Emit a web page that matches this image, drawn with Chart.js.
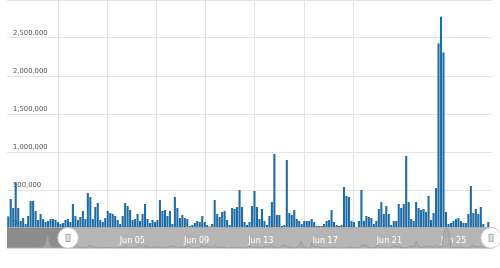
<!DOCTYPE html>
<html><head><meta charset="utf-8">
<script src="https://cdn.jsdelivr.net/npm/chart.js@4"></script>
<style>
html,body{margin:0;padding:0;background:#fff;}
#wrap{position:relative;width:500px;height:268px;overflow:hidden;background:#fff;}
#main{position:absolute;left:0;top:0;}
#scroll{position:absolute;left:0;top:226px;}
</style></head><body>
<div id="wrap"><canvas id="main" width="500" height="228"></canvas><canvas id="scroll" width="500" height="26"></canvas></div>
<script>
// ---- data ----
const barValues = [
 153000, 382000, 263000, 600000, 263000, 92000, 132000, 53000, 158000, 355000,
 355000, 224000, 105000, 184000, 118000, 79000, 92000, 118000, 118000, 105000,
 79000, 53000, 66000, 105000, 118000, 79000, 316000, 158000, 105000, 145000,
 224000, 118000, 461000, 408000, 118000, 276000, 329000, 105000, 79000, 132000,
 224000, 197000, 184000, 158000, 105000, 53000, 158000, 329000, 289000, 237000,
 105000, 118000, 184000, 92000, 184000, 316000, 118000, 66000, 105000, 79000,
 105000, 368000, 224000, 237000, 158000, 224000,
 53000, 408000, 263000, 132000, 171000, 132000, 118000, 26000, 39000, 66000,
 92000, 79000, 158000, 79000, 39000, 20000, 53000, 368000, 184000, 145000,
 211000, 224000, 105000, 39000, 263000, 250000, 276000, 500000, 276000, 79000,
 39000, 79000, 289000, 487000, 276000, 118000, 250000, 92000, 39000, 158000,
 342000, 974000, 171000, 171000, 26000, 39000, 895000, 197000, 171000, 237000,
 118000, 92000, 53000, 92000, 92000, 92000, 118000, 79000, 26000, 26000,
 26000, 53000, 92000, 105000,
 237000, 79000, 39000, 26000, 39000, 539000, 421000, 408000, 92000, 79000,
 13000, 92000, 500000, 92000, 158000, 145000, 132000, 53000, 92000, 250000,
 342000, 184000, 289000, 184000, 39000, 92000, 92000, 316000, 263000, 316000,
 947000, 342000, 118000, 92000, 342000, 263000, 237000, 250000, 211000, 421000,
 105000, 197000, 526000, 2430000, 2780000, 2310000, 211000, 53000, 66000, 92000,
 118000, 132000, 92000, 66000, 66000, 184000, 553000, 197000, 250000, 184000,
 276000, 53000, 13000, 79000, 13000
];
// values before the zoomed range (only visible in the scrollbar overview)
const preRangeValues = [
 90000, 110000, 80000, 120000, 100000, 90000, 130000, 110000, 90000, 100000,
 120000, 100000, 90000, 110000, 130000, 120000, 150000, 500000, 1800000, 600000,
 150000, 120000, 100000, 110000, 90000, 120000, 100000, 110000
];
const yTickValues = [0, 500000, 1000000, 1500000, 2000000, 2500000, 3000000];
const scrollTickDays = [4, 8, 12, 16, 20, 24];            // days after Jun 01
const scrollTickLabels = ['Jun 05', 'Jun 09', 'Jun 13', 'Jun 17', 'Jun 21', 'Jun 25'];
const viewStartDay = 0, viewEndDay = 26.33;              // zoomed range (days after Jun 01)
const scrollStartDay = -3.8, scrollEndDay = 26.45;       // full data range
const gridStepDays = 3;

// ---- derived ----
const dayPerBar = (viewEndDay - viewStartDay) / barValues.length;
const monthNames = ['Jan','Feb','Mar','Apr','May','Jun','Jul','Aug','Sep','Oct','Nov','Dec'];
function dayLabel(d) {
  const t = new Date(Date.UTC(2017, 5, 1) + d * 86400000);
  return monthNames[t.getUTCMonth()] + ' ' + String(t.getUTCDate()).padStart(2, '0') + ' ' +
         String(t.getUTCHours()).padStart(2, '0') + ':00';
}
const categories = barValues.map((v, i) => dayLabel(viewStartDay + i * dayPerBar));
const overviewPoints = preRangeValues.map((v, i) => ({x: viewStartDay - (preRangeValues.length - i - 0.5) * dayPerBar, y: v}))
  .concat(barValues.map((v, i) => ({x: viewStartDay + (i + 0.5) * dayPerBar, y: v})));

const FONT = 'DejaVu Sans';
const GRID = '#e4e4e4';

new Chart(document.getElementById('main'), {
  type: 'bar',
  data: {labels: categories, datasets: [{data: barValues, backgroundColor: '#206da6', borderWidth: 0,
         barPercentage: 0.84, categoryPercentage: 1}]},
  options: {
    responsive: false, animation: false,
    layout: {padding: {left: 7, right: 8, top: 0, bottom: 0}},
    plugins: {legend: {display: false}, tooltip: {enabled: false}},
    scales: {
      x: {type: 'category', z: 1, grid: {display: false, drawTicks: false}, ticks: {display: false},
          border: {display: true, color: '#3a3a3a', width: 1},
          afterFit: s => { s.paddingLeft = 0; s.paddingRight = 0; }},
      xg: {type: 'linear', position: 'bottom', min: viewStartDay, max: viewEndDay,
           ticks: {display: false, stepSize: gridStepDays},
           grid: {drawTicks: false, color: c => (c.tick && c.tick.value > viewStartDay && c.tick.value < viewEndDay &&
                  Math.abs(c.tick.value % gridStepDays) < 1e-6) ? GRID : 'rgba(0,0,0,0)'},
           border: {display: false},
           afterFit: s => { s.paddingLeft = 0; s.paddingRight = 0; }},
      y: {min: 0, max: 3000000,
          afterBuildTicks: s => { s.ticks = yTickValues.map(v => ({value: v})); },
          ticks: {mirror: true, padding: 6, labelOffset: -4.5, color: '#555',
                  font: {family: FONT, size: 6.8},
                  callback: v => v >= 3000000 ? '' : Number(v).toLocaleString('en-US')},
          grid: {color: GRID, drawTicks: false}, border: {display: false},
          afterFit: s => { s.width = 0; s.paddingTop = 0; s.paddingBottom = 0; }}
    }
  }
});

const scrollBg = {
  id: 'scrollBg',
  beforeDraw(chart) {
    const {ctx, chartArea: a, scales: {x}} = chart;
    const xs = x.getPixelForValue(viewStartDay), xe = x.getPixelForValue(viewEndDay);
    ctx.save();
    ctx.fillStyle = '#8d8d8d';
    ctx.fillRect(a.left, a.top, a.right - a.left, a.bottom - a.top);
    ctx.fillStyle = '#b5b5b5';
    ctx.fillRect(xs, a.top, xe - xs, a.bottom - a.top);
    ctx.restore();
  }
};
const scrollHandles = {
  id: 'scrollHandles',
  afterDraw(chart) {
    const {ctx, chartArea: a, scales: {x}} = chart;
    const cy = (a.top + a.bottom) / 2;
    [viewStartDay, viewEndDay].forEach(d => {
      const cx = x.getPixelForValue(d);
      ctx.save();
      ctx.beginPath(); ctx.arc(cx, cy, 10.3, 0, Math.PI * 2);
      ctx.fillStyle = '#fff'; ctx.fill();
      ctx.strokeStyle = '#c8c8c8'; ctx.lineWidth = 1; ctx.stroke();
      ctx.fillStyle = '#e0e0e0'; ctx.strokeStyle = '#a8a8a8';
      ctx.fillRect(cx - 2, cy - 3.5, 4, 7); ctx.strokeRect(cx - 2, cy - 3.5, 4, 7);
      ctx.restore();
    });
  }
};

new Chart(document.getElementById('scroll'), {
  type: 'line',
  data: {datasets: [{data: overviewPoints, borderColor: '#9c9c9c', borderWidth: 1,
         backgroundColor: 'rgba(170,170,170,0.8)', fill: 'origin', pointRadius: 0, tension: 0}]},
  options: {
    responsive: false, animation: false,
    layout: {padding: {left: 7, right: 7, top: 1.5, bottom: 3.7}},
    plugins: {legend: {display: false}, tooltip: {enabled: false}},
    scales: {
      x: {type: 'linear', min: scrollStartDay, max: scrollEndDay, position: {yp: 0.6}, z: 1,
          afterBuildTicks: s => { s.ticks = scrollTickDays.map(v => ({value: v})); },
          ticks: {color: '#ffffff', font: {family: FONT, size: 8}, padding: 0, maxRotation: 0, autoSkip: false,
                  callback: (v, i) => scrollTickLabels[i]},
          grid: {display: false, drawTicks: false}, border: {display: false},
          afterFit: s => { s.paddingLeft = 0; s.paddingRight = 0; }},
      y: {display: false, min: 0, max: 2900000},
      yp: {display: false, min: 0, max: 1}
    }
  },
  plugins: [scrollBg, scrollHandles]
});
</script>
</body></html>
